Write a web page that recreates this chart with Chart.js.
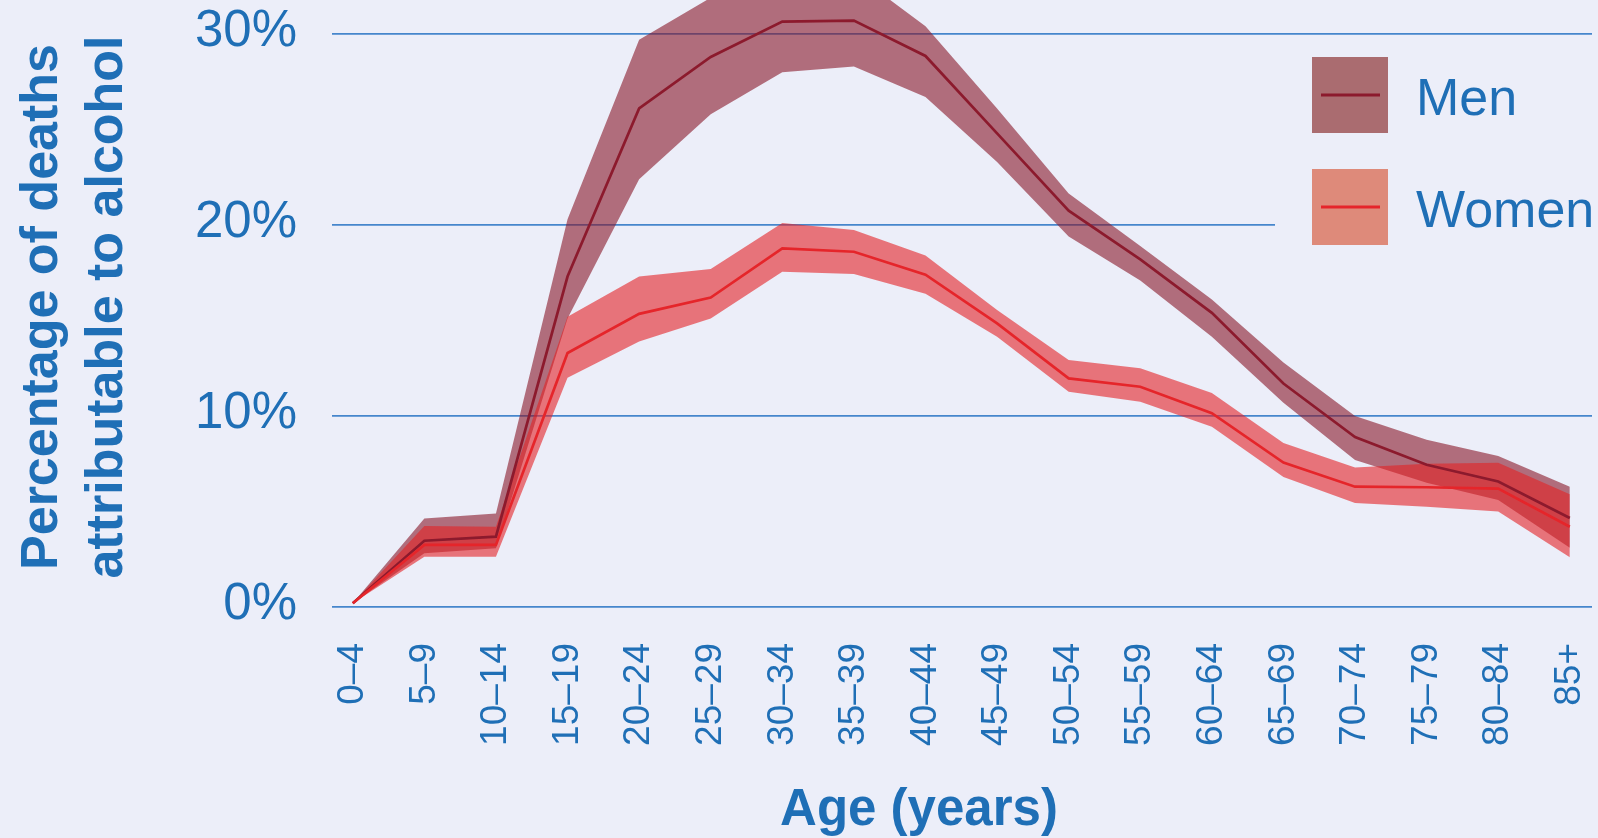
<!DOCTYPE html>
<html>
<head>
<meta charset="utf-8">
<script src="https://cdn.jsdelivr.net/npm/chart.js@4"></script>
<style>
  html, body { margin: 0; padding: 0; background: #eceef9; }
  canvas { display: block; }
</style>
</head>
<body>
<canvas id="chart" width="1598" height="838"></canvas>
<script>
// age groups on the x axis
const ageGroups = ['0–4', '5–9', '10–14', '15–19', '20–24', '25–29', '30–34', '35–39', '40–44',
  '45–49', '50–54', '55–59', '60–64', '65–69', '70–74', '75–79', '80–84', '85+'];

// percentage of deaths attributable to alcohol (estimate + uncertainty band)
const menMid = [0.2, 3.47, 3.68, 17.3, 26.1, 28.8, 30.65, 30.7, 28.85, 24.8, 20.75, 18.2, 15.4, 11.7, 8.9, 7.45, 6.57, 4.66];
const menLow = [0.2, 2.81, 3.07, 15.1, 22.4, 25.8, 28.0, 28.3, 26.7, 23.3, 19.4, 17.1, 14.15, 10.7, 7.7, 6.5, 5.6, 3.1];
const menHigh = [0.2, 4.64, 4.9, 20.3, 29.7, 31.9, 33.3, 33.2, 30.4, 26.1, 21.65, 18.9, 16.1, 12.8, 10.0, 8.75, 7.9, 6.3];

const womenMid = [0.2, 3.25, 3.25, 13.3, 15.35, 16.2, 18.78, 18.6, 17.4, 14.85, 11.97, 11.53, 10.15, 7.56, 6.3, 6.27, 6.2, 4.2];
const womenLow = [0.2, 2.63, 2.63, 12.0, 13.9, 15.1, 17.55, 17.43, 16.4, 14.15, 11.27, 10.75, 9.44, 6.8, 5.45, 5.25, 5.0, 2.6];
const womenHigh = [0.2, 4.24, 4.2, 15.2, 17.3, 17.7, 20.1, 19.74, 18.4, 15.55, 12.93, 12.5, 11.2, 8.58, 7.3, 7.5, 7.55, 5.9];

const yTicks = [0, 10, 20, 30];
const seriesNames = ['Men', 'Women'];

const BLUE = '#1f6fb6';
const FONT = '"Liberation Sans", Arial, sans-serif';
const MEN_LINE = '#8c1a2d';
const WOMEN_LINE = '#e5252a';
const MEN_BAND = 'rgba(136, 24, 40, 0.6)';
const WOMEN_BAND = 'rgba(229, 33, 37, 0.6)';

const pts = arr => arr.map((v, i) => ({ x: i, y: v }));

// axis titles + legend drawn on top
const extras = {
  id: 'extras',
  afterDraw(chart) {
    const ctx = chart.ctx;
    ctx.save();
    ctx.fillStyle = BLUE;
    ctx.font = 'bold 51px ' + FONT;
    ctx.textAlign = 'center';
    ctx.textBaseline = 'alphabetic';
    ctx.fillText('Age (years)', 919, 825);

    ctx.font = 'bold 52px ' + FONT;
    [['Percentage of deaths', 57], ['attributable to alcohol', 122]].forEach(([t, x]) => {
      ctx.save();
      ctx.translate(x, 307);
      ctx.rotate(-Math.PI / 2);
      ctx.fillText(t, 0, 0);
      ctx.restore();
    });

    // legend
    ctx.fillStyle = '#eceef9';
    ctx.fillRect(1275, 45, 323, 215);
    const items = [
      { name: seriesNames[0], box: 'rgb(170,108,112)', line: MEN_LINE, top: 57 },
      { name: seriesNames[1], box: 'rgb(222,138,122)', line: WOMEN_LINE, top: 169 }
    ];
    items.forEach(it => {
      ctx.fillStyle = it.box;
      ctx.fillRect(1312, it.top, 76, 76);
      ctx.strokeStyle = it.line;
      ctx.lineWidth = 3;
      ctx.beginPath();
      ctx.moveTo(1321, it.top + 38);
      ctx.lineTo(1380, it.top + 38);
      ctx.stroke();
      ctx.fillStyle = BLUE;
      ctx.font = '52px ' + FONT;
      ctx.textAlign = 'left';
      ctx.fillText(it.name, 1416, it.top + 58);
    });
    ctx.restore();
  }
};

new Chart(document.getElementById('chart'), {
  type: 'line',
  data: {
    datasets: [
      { label: 'menLow', data: pts(menLow), borderWidth: 0, pointRadius: 0, fill: false, order: 6 },
      { label: 'menHigh', data: pts(menHigh), borderWidth: 0, pointRadius: 0,
        fill: { target: 0 }, backgroundColor: MEN_BAND, order: 5 },
      { label: 'womenLow', data: pts(womenLow), borderWidth: 0, pointRadius: 0, fill: false, order: 4 },
      { label: 'womenHigh', data: pts(womenHigh), borderWidth: 0, pointRadius: 0,
        fill: { target: 2 }, backgroundColor: WOMEN_BAND, order: 3 },
      { label: seriesNames[0], data: pts(menMid), borderColor: MEN_LINE, borderWidth: 2.7,
        pointRadius: 0, fill: false, order: 2 },
      { label: seriesNames[1], data: pts(womenMid), borderColor: WOMEN_LINE, borderWidth: 2.7,
        pointRadius: 0, fill: false, order: 1 }
    ]
  },
  options: {
    responsive: false,
    animation: false,
    devicePixelRatio: 1,
    layout: { padding: { left: 0, right: 6, top: 0, bottom: 0 } },
    plugins: {
      legend: { display: false },
      tooltip: { enabled: false }
    },
    scales: {
      x: {
        type: 'linear',
        min: -0.29,
        max: 17.31,
        grid: { display: false },
        border: { display: false },
        afterBuildTicks: s => { s.ticks = ageGroups.map((_, i) => ({ value: i })); },
        afterFit: s => { s.height = 231; s.paddingLeft = 0; s.paddingRight = 0; },
        ticks: {
          autoSkip: false,
          minRotation: 90,
          maxRotation: 90,
          padding: 28,
          color: BLUE,
          font: { family: FONT, size: 37 },
          callback: v => ageGroups[v]
        }
      },
      y: {
        min: 0,
        max: 31.78,
        grid: { color: '#4686cc', lineWidth: 1.8, drawTicks: false },
        border: { display: false },
        afterBuildTicks: s => { s.ticks = yTicks.map(v => ({ value: v })); },
        afterFit: s => { s.width = 332; s.paddingTop = 0; s.paddingBottom = 0; },
        ticks: {
          padding: 35,
          labelOffset: -2,
          color: BLUE,
          font: { family: FONT, size: 51 },
          callback: v => v + '%'
        }
      }
    }
  },
  plugins: [extras]
});
</script>
</body>
</html>
